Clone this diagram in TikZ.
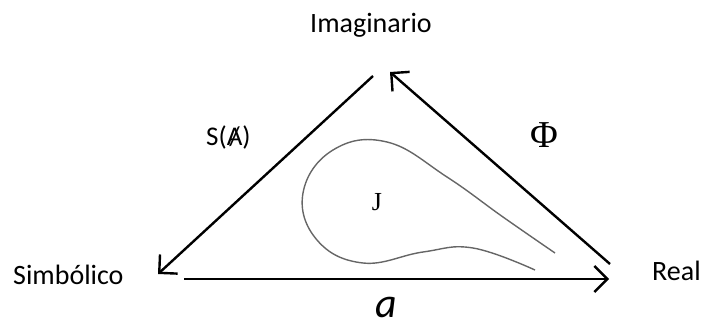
\documentclass[tikz,border=0pt]{standalone}
\usepackage{fontspec}
\setmainfont{Carlito}
\newfontfamily\serifj{Liberation Serif}
\usetikzlibrary{arrows.meta}
\begin{document}
\begin{tikzpicture}[x=1pt,y=-1pt,
  edge/.style={line width=2.4pt, -{Straight Barb[length=13pt,width=26pt,line width=2.4pt]}},
  lbl/.style={font=\fontsize{28}{30}\selectfont, inner sep=0pt},
  curve/.style={draw=black!60, line width=1.4pt}]
\useasboundingbox (0,0) rectangle (702,327);
\node[lbl, anchor=base] (imag) at (371,32) {Imaginario};
\node[lbl, anchor=base west] (simb) at (13,284) {Simbólico};
\node[lbl, anchor=base west] (real) at (652,280) {Real};
\node[lbl, anchor=base west, font=\fontsize{27}{29}\selectfont] (sa) at (206,145) {S(\ooalign{A\cr\hidewidth/\hidewidth})};
\node[inner sep=0pt] (phi) at (544,135) {\serifj\fontsize{38}{40}\selectfont Φ};
\node[inner sep=0pt] (j) at (377,202) {\serifj\fontsize{26}{28}\selectfont J};
\node[inner sep=0pt, anchor=base] (a) at (386,317) {\itshape\fontsize{42}{44}\selectfont a};
\coordinate (apexL) at (373,76);
\coordinate (apexR) at (390,72);
\coordinate (simTip) at (158,274);
\coordinate (botStart) at (184,279);
\coordinate (realTip) at (609,279);
\coordinate (realUp) at (610,264);
\draw[edge] (apexL) -- (simTip);
\draw[edge] (realUp) -- (apexR);
\draw[edge] (botStart) -- (realTip);
\draw[curve] plot[smooth, tension=0.7] coordinates {(555,253) (503,217) (447,177) (387,142) (333,150) (303,193) (317,240) (363,263) (423,252) (473,248) (535,270)};
\end{tikzpicture}
\end{document}
